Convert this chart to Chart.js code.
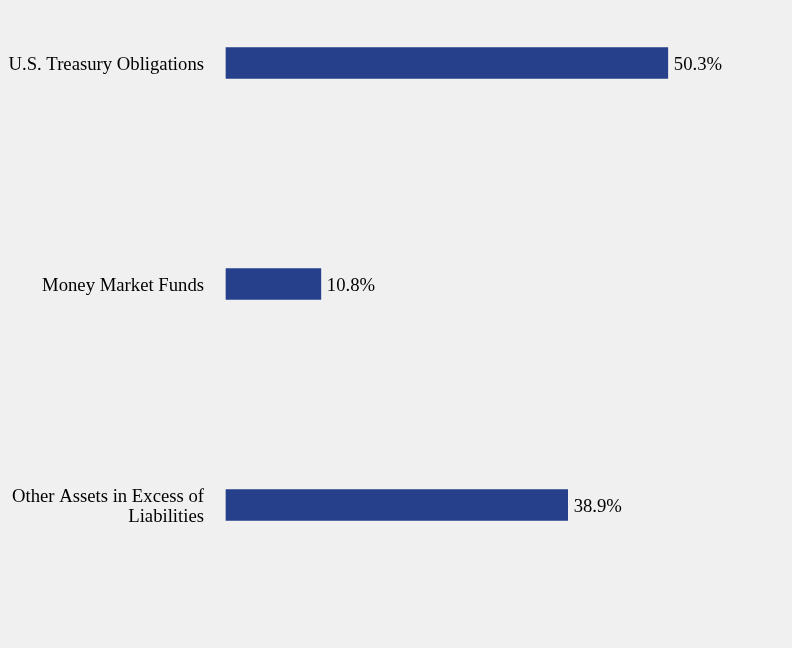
<!DOCTYPE html>
<html>
<head>
<meta charset="utf-8">
<script src="https://cdn.jsdelivr.net/npm/chart.js@4"></script>
<style>
html,body{margin:0;padding:0;background:#f0f0f0;}
#wrap{width:792px;height:648px;position:relative;}
</style>
</head>
<body>
<div id="wrap"><canvas id="c" width="792" height="648"></canvas></div>
<script>
const categories = [["U.S. Treasury Obligations"], ["Money Market Funds"], ["Other Assets in Excess of", "Liabilities"]];
const values = [50.3, 10.8, 38.9];
const valueLabels = ["50.3%", "10.8%", "38.9%"];

const FONT = "'Liberation Serif', 'Times New Roman', serif";

const valueLabelPlugin = {
  id: 'valueLabels',
  afterDatasetsDraw(chart) {
    const ctx = chart.ctx;
    const meta = chart.getDatasetMeta(0);
    ctx.save();
    ctx.font = "18.7px " + FONT;
    ctx.fillStyle = "#000000";
    ctx.textAlign = "left";
    ctx.textBaseline = "middle";
    meta.data.forEach((bar, i) => {
      ctx.fillText(valueLabels[i], bar.x + 6, bar.y + 2);
    });
    ctx.restore();
  }
};

new Chart(document.getElementById('c'), {
  type: 'bar',
  data: {
    labels: categories,
    datasets: [{
      data: values,
      backgroundColor: '#26408b',
      borderWidth: 0,
      barThickness: 31,
      clip: false
    }]
  },
  options: {
    indexAxis: 'y',
    responsive: false,
    animation: false,
    layout: { padding: { left: 0, right: 39, top: 63, bottom: 143 } },
    plugins: { legend: { display: false }, tooltip: { enabled: false } },
    scales: {
      x: { display: false, min: 0, max: 60 },
      y: {
        offset: false,
        grid: { display: false, drawTicks: false },
        border: { display: false },
        ticks: {
          color: '#000000',
          padding: 22,
          labelOffset: 2,
          font: { family: FONT, size: 18.7, lineHeight: 1.08 }
        },
        afterFit(scale) { scale.width = 226; }
      }
    }
  },
  plugins: [valueLabelPlugin]
});
</script>
</body>
</html>
